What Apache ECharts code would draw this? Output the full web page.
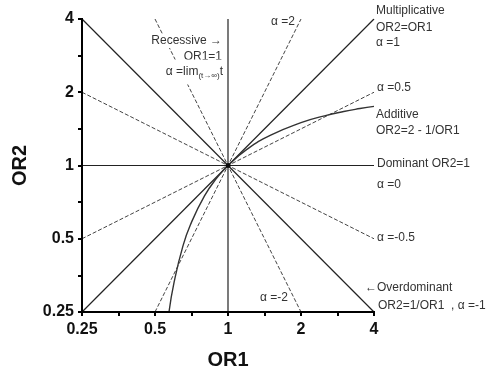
<!DOCTYPE html>
<html><head><meta charset="utf-8">
<script src="https://cdn.jsdelivr.net/npm/echarts@6/dist/echarts.min.js"></script>
<style>html,body{margin:0;padding:0;background:#fff}#c{width:491px;height:375px}</style>
</head><body><div id="c"></div>
<script>
const tickValues = [0.25, 0.5, 1, 2, 4];
const tickLabels = ['0.25', '0.5', '1', '2', '4'];
const multiplicative = [[0.25, 0.25], [4, 4]];
const alpha2 = [[0.5, 0.25], [2, 4]];
const alphaHalf = [[0.25, 0.5], [4, 2]];
const dominant = [[0.25, 1], [4, 1]];
const alphaMinusHalf = [[0.25, 2], [4, 0.5]];
const overdominant = [[0.25, 4], [4, 0.25]];
const alphaMinus2 = [[0.5, 4], [2, 0.25]];
const recessive = [[1, 0.25], [1, 4]];
const additiveOR1 = [0.571, 0.6, 0.65, 0.7, 0.8, 0.9, 1, 1.2, 1.5, 2, 2.5, 3, 3.5, 4];
const additiveOR2 = [0.25, 0.333, 0.462, 0.571, 0.75, 0.889, 1, 1.167, 1.333, 1.5, 1.6, 1.667, 1.714, 1.75];
const center = [[1, 1]];

const lo = tickValues[0], hi = tickValues[tickValues.length - 1];
const xAxisFrame = [[lo, lo], [hi, lo]];
const yAxisFrame = [[lo, lo], [lo, hi]];

const chart = echarts.init(document.getElementById('c'), null, {renderer: 'canvas'});
const FONT = 'Liberation Sans, Arial, sans-serif';
const solid = {color: '#222', width: 1.2, type: 'solid'};
const dashed = {color: '#444', width: 1, type: [4, 2]};
function line(data, style) {
  return {type: 'line', data: data, symbol: 'none', silent: true, lineStyle: style, z: 2};
}
const additive = additiveOR1.map((x, i) => [x, additiveOR2[i]]);

function fmt(v) {
  for (let i = 0; i < tickValues.length; i++) if (Math.abs(v - tickValues[i]) < 1e-6) return tickLabels[i];
  return '';
}
// log axis with base sqrt(2): ticks at every half-octave; only octave ticks carry labels
const axisCommon = {
  type: 'log', logBase: Math.SQRT2, min: lo, max: hi, splitNumber: 8,
  axisLine: {show: true, onZero: false, lineStyle: {color: '#000', width: 2}},
  axisTick: {show: true, inside: false, length: 4, lineStyle: {color: '#000', width: 2}},
  splitLine: {show: false},
  axisLabel: {formatter: fmt, showMinLabel: true, showMaxLabel: true, interval: 0, color: '#111', fontFamily: FONT, fontWeight: 'bold', fontSize: 16},
  nameTextStyle: {color: '#111', fontFamily: FONT, fontWeight: 'bold', fontSize: 20},
  nameLocation: 'middle'
};

function txt(x, y, text, align, extra) {
  return {
    type: 'text', x: x, y: y, z: 100, silent: true,
    style: Object.assign({text: text, fill: '#333', font: '12px ' + FONT, align: align || 'left', verticalAlign: 'middle',
      backgroundColor: '#fff', padding: [1, 1, 1, 1]}, extra || {})
  };
}

chart.setOption({
  animation: false,
  backgroundColor: '#fff',
  grid: {left: 82, right: 117, top: 19, bottom: 62},
  xAxis: Object.assign({}, axisCommon, {name: 'OR1', nameGap: 38, axisLabel: Object.assign({}, axisCommon.axisLabel, {margin: 10})}),
  yAxis: Object.assign({}, axisCommon, {name: 'OR2', nameGap: 52, nameRotate: 90, axisLabel: Object.assign({}, axisCommon.axisLabel, {margin: 8})}),
  series: [
    line(overdominant, solid),
    line(multiplicative, solid),
    line(dominant, solid),
    line(recessive, solid),
    line(alpha2, dashed),
    line(alphaMinus2, dashed),
    line(alphaHalf, dashed),
    line(alphaMinusHalf, dashed),
    Object.assign(line(additive, {color: '#333', width: 1.4, type: 'solid'}), {smooth: true}),
    Object.assign(line(xAxisFrame, {color: '#000', width: 2, type: 'solid', cap: 'square'}), {clip: false, z: 4}),
    Object.assign(line(yAxisFrame, {color: '#000', width: 2, type: 'solid', cap: 'square'}), {clip: false, z: 4}),
    {type: 'scatter', data: center, symbolSize: 5, itemStyle: {color: '#000'}, silent: true, z: 3}
  ],
  graphic: [
    txt(223, 41, 'Recessive \u2192', 'right'),
    txt(223, 57, 'OR1=1', 'right'),
    {type: 'text', x: 224, y: 72, z: 100, silent: true,
     style: {text: '{a|\u03b1 =lim}{s|(t\u2192\u221e)}{a|t}', align: 'right', verticalAlign: 'middle', backgroundColor: '#fff', padding: [1, 1, 1, 1],
       rich: {a: {fontSize: 12, fontFamily: FONT, fill: '#333', color: '#333', height: 16, verticalAlign: 'middle'},
              s: {fontSize: 8, fontFamily: FONT, fill: '#333', color: '#333', padding: [7, 0, 0, 0], height: 16, verticalAlign: 'bottom'}}}},
    txt(270, 22, '\u03b1 =2', 'left', {backgroundColor: 'transparent'}),
    txt(375, 11, 'Multiplicative'),
    txt(375, 28, 'OR2=OR1'),
    txt(375, 43, '\u03b1 =1'),
    txt(376, 88, '\u03b1 =0.5'),
    txt(375, 115, 'Additive'),
    txt(375, 131, 'OR2=2 - 1/OR1'),
    txt(376, 164, 'Dominant OR2=1'),
    txt(376, 185, '\u03b1 =0'),
    txt(376, 238, '\u03b1 =-0.5'),
    txt(364, 288, '\u2190Overdominant'),
    txt(377, 306, 'OR2=1/OR1  , \u03b1 =-1'),
    txt(259, 298, '\u03b1 =-2', 'left', {backgroundColor: 'transparent'})
  ]
});
</script></body></html>
